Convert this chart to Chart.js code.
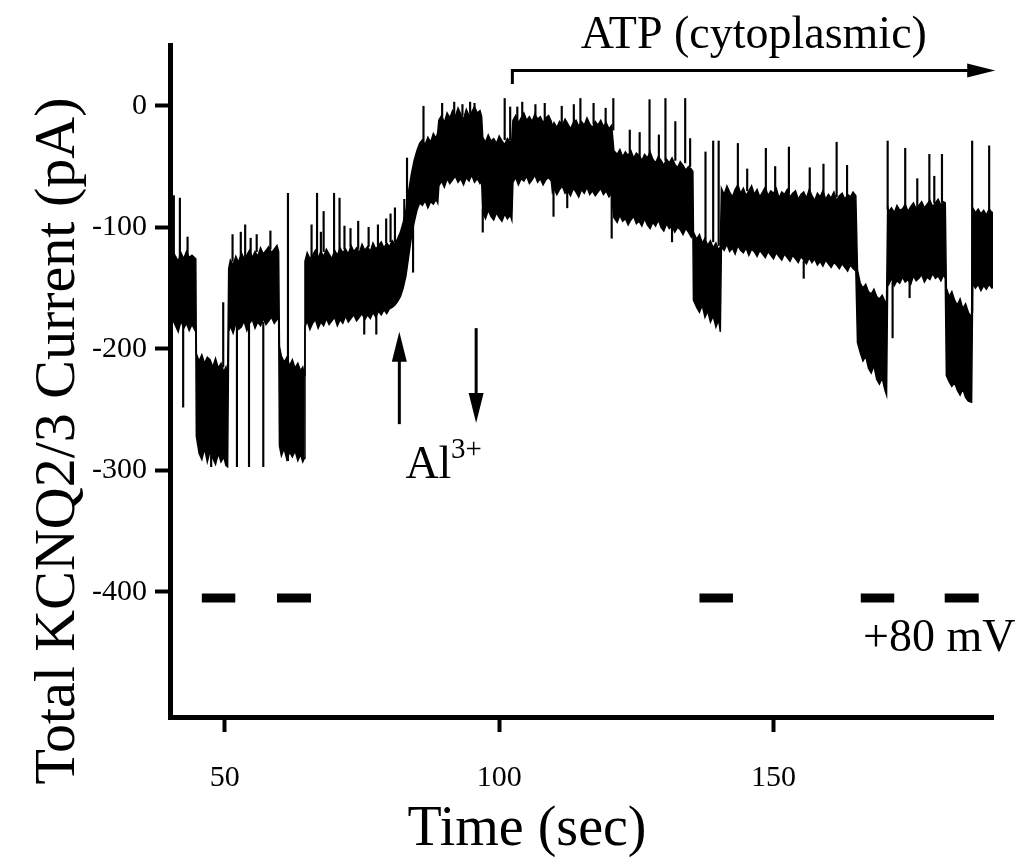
<!DOCTYPE html>
<html lang="en">
<head>
<meta charset="UTF-8">
<title>Total KCNQ2/3 Current</title>
<style>
  body { margin: 0; background: #fff; }
  #wrap { width: 1024px; height: 858px; }
</style>
</head>
<body>
<div id="wrap"><canvas id="trace" width="1024" height="858"></canvas></div>
<script src="https://cdn.jsdelivr.net/npm/chart.js"></script>
<script>
// envelope of the current trace (sec, pA); one line per episode
const timeSec = [
  39.5, 40, 40.5, 41, 41.5, 42, 42.5, 43, 43.5, 44, 44.7,
  44.8, 45.3, 45.8, 46.3, 46.8, 47.3, 47.8, 48.3, 48.8, 49.3, 49.8, 50.2, 50.5,
  50.7, 51, 51.5, 52, 52.5, 53, 53.5, 54, 54.5, 55, 55.5, 56, 56.5, 57, 57.5, 58, 58.5, 59, 59.5, 59.8,
  59.95, 60.3, 60.8, 61.3, 61.8, 62.3, 62.8, 63.3, 63.8, 64.2, 64.5,
  64.6, 65, 65.5, 66, 66.5, 67, 67.5, 68, 68.5, 69, 69.5, 70, 70.5, 71, 71.5, 72, 72.5, 73, 73.5, 74, 74.5, 75, 75.5, 76, 76.5, 77, 77.5, 78, 78.5, 79, 79.5, 80, 80.5, 81, 81.5,
  82, 82.5, 83, 83.5, 84, 84.5, 85, 85.5,
  86, 86.5, 87, 87.5, 88, 88.5, 88.8,
  89, 89.5, 90, 90.5, 91, 91.5, 92, 92.5, 93, 93.5, 94, 94.5, 95, 95.5, 96, 96.5, 96.8,
  97, 97.5, 98, 98.5, 99, 99.5, 100, 100.5, 101, 101.5, 102, 102.3,
  102.5, 103, 103.5, 104, 104.5, 105, 105.5, 106, 106.5, 107, 107.5, 108, 108.5, 109, 109.5,
  109.7, 110, 110.5, 111, 111.5, 112, 112.5, 113, 113.5, 114, 114.5, 115, 115.5, 116, 116.5, 117, 117.5, 118, 118.5, 119, 119.5, 120, 120.5,
  120.9, 121.5, 122, 122.5, 123, 123.5, 124, 124.5, 125, 125.5, 126, 126.5, 127, 127.5, 128, 128.5, 129, 129.5, 130, 130.5, 131, 131.5, 132, 132.5, 133, 133.5, 134, 134.5, 135, 135.3,
  135.4, 136, 136.5, 137, 137.5, 138, 138.5, 139, 139.5, 140, 140.3,
  140.5, 141, 141.5, 142, 142.5, 143, 143.5, 144, 144.5, 145,
  145.5, 146, 146.5, 147, 147.5, 148, 148.5, 149, 149.5, 150,
  150.5, 151, 151.5, 152, 152.5, 153, 153.5, 154, 154.5, 155,
  155.5, 156, 156.5, 157, 157.5, 158, 158.5, 159, 159.5, 160,
  160.5, 161, 161.5, 162, 162.5, 163, 163.5, 164, 164.5, 165,
  165.3, 165.8, 166.3, 166.8, 167.3, 167.8, 168.3, 168.8, 169.3, 169.8, 170.3, 170.6,
  170.8, 171, 171.5, 172, 172.5, 173, 173.5, 174, 174.5, 175, 175.5, 176, 176.5, 177, 177.5, 178, 178.5, 179, 179.5, 180, 180.5, 181, 181.3,
  181.5, 182, 182.5, 183, 183.5, 184, 184.5, 185, 185.5, 186.1,
  186.3, 186.8, 187.3, 187.8, 188.3, 188.8, 189.3, 189.8, 190.3];
const upperPA = [
  -122, -127, -119, -124, -128, -121, -126, -120, -125, -123, -126,
  -204, -210, -205, -212, -207, -209, -215, -208, -216, -212, -219, -215, -223,
  -134, -127, -131, -124, -129, -121, -126, -123, -119, -125, -120, -124, -117, -122, -119, -116, -121, -118, -115, -120,
  -198, -206, -211, -207, -214, -209, -216, -212, -218, -215, -222,
  -128, -121, -126, -123, -119, -125, -120, -124, -118, -122, -126, -119, -123, -117, -121, -118, -122, -115, -120, -117, -121, -114, -119, -116, -120, -113, -118, -115, -112, -117, -113, -116, -111, -114, -109,
  -104, -96, -86, -70, -56, -45, -37, -31,
  -28, -32, -26, -30, -23, -27, -22,
  -12, -8, -14, -6, -10, -4, -9, -2, -7, -11, -3, -8, -5, -1, -6, -4, -9,
  -26, -30, -24, -29, -27, -31, -25, -29, -32, -27, -30, -28,
  -12, -8, -14, -10, -6, -12, -9, -13, -7, -11, -9, -14, -10, -8, -13,
  -17, -14, -18, -13, -16, -11, -15, -19, -14, -12, -17, -13, -16, -10, -15, -18, -13, -16, -12, -17, -14, -19, -16,
  -37, -40, -36, -42, -38, -41, -37, -43, -39, -41, -45, -40, -43, -38, -44, -47, -42, -45, -49, -44, -47, -43, -48, -51, -46, -49, -53, -50, -52, -54,
  -104, -110, -106, -113, -109, -115, -111, -117, -113, -119, -116,
  -68, -73, -66, -71, -75, -69, -65, -72, -68, -74,
  -70, -66, -73, -69, -75, -71, -67, -74, -70, -72,
  -68, -76, -71, -73, -69, -75, -72, -70, -77, -73,
  -71, -76, -69, -74, -78, -72, -75, -70, -77, -73,
  -76, -71, -78, -74, -72, -77, -73, -75, -71, -74,
  -135, -146, -150, -147, -153, -155, -151, -157, -159, -156, -161, -162,
  -83, -87, -84, -88, -82, -86, -85, -81, -87, -83, -80, -85, -82, -79, -84, -81, -78, -83, -80, -77, -82, -79, -80,
  -150, -157, -153, -160, -164, -159, -167, -163, -170, -174,
  -84, -88, -85, -89, -86, -90, -85, -88, -87];
const lowerPA = [
  -178, -184, -176, -181, -186, -177, -183, -179, -185, -180, -186,
  -272, -286, -291, -282, -293, -284, -290, -295, -286, -293, -289, -296, -297,
  -186, -181, -187, -179, -184, -182, -177, -185, -179, -176, -183, -178, -181, -175, -180, -177, -174, -179, -176, -174,
  -280, -288, -282, -291, -285, -289, -284, -292, -287, -293, -290,
  -182, -177, -184, -179, -176, -183, -178, -181, -175, -180, -177, -174, -181, -176, -179, -173, -178, -175, -172, -177, -174, -171, -176, -172, -175, -170, -174, -169, -172, -168, -171, -167, -166, -164, -161,
  -157, -150, -140, -124, -108, -96, -86, -80,
  -82, -78, -84, -79, -81, -77, -80,
  -66, -62, -67, -60, -64, -61, -58, -63, -60, -65, -59, -62, -57, -63, -60, -64, -62,
  -88, -93, -86, -91, -94, -88, -92, -95, -89, -93, -90, -94,
  -63, -59, -65, -60, -62, -58, -64, -61, -57, -63, -60, -65, -61, -59, -62,
  -71, -68, -73, -69, -66, -72, -70, -74, -68, -71, -75, -69, -72, -67, -73, -70, -74, -71, -68, -73, -70, -75, -72,
  -92, -96, -90, -95, -93, -98, -94, -91, -97, -95, -99, -93, -98, -101, -96, -99, -94, -100, -103, -97, -101, -99, -104, -100, -102, -106, -101, -104, -108, -103,
  -160, -166, -170, -164, -174, -169, -178, -173, -182, -176, -186,
  -116, -119, -114, -120, -117, -122, -115, -119, -121, -117,
  -123, -118, -120, -124, -119, -122, -125, -120, -123, -126,
  -121, -124, -127, -122, -125, -128, -123, -126, -129, -124,
  -127, -130, -125, -129, -126, -131, -128, -132, -127, -130,
  -133, -129, -131, -134, -130, -133, -136, -131, -134, -136,
  -195, -203, -210, -206, -216, -220, -214, -225, -229, -224, -234, -238,
  -145, -147, -142, -148, -144, -146, -141, -145, -143, -147, -140, -144, -142, -139, -145, -141, -143, -138, -142, -140, -144, -139, -142,
  -222, -227, -231, -228, -234, -238, -233, -240, -243, -244,
  -146, -150, -147, -152, -148, -151, -147, -150, -149];

// single-channel spikes: time, start, end (pA)
const spikeT    = [40.7, 41.8, 42.4, 43.2, 47.5, 49.7, 51.4, 52.2, 52.9, 53.7, 54.4, 54.7, 55.8, 57.0, 58.3, 61.5,
  65.8, 66.8, 67.5, 68.0, 69.9, 70.9, 71.8, 72.9, 74.3, 75.4, 76.2, 77.6, 77.9, 79.4, 80.2, 81.0, 82.7, 83.2, 84.3,
  86.2, 89.6, 91.8, 93.3, 94.7, 95.5, 97.0, 101.0, 102.0, 103.3, 104.2, 106.6, 108.3, 109.9,
  111.4, 112.4, 113.6, 114.8, 117.2, 119.4, 120.5, 120.8, 123.8, 125.6, 127.4, 129.1, 130.3, 131.5, 132.1, 133.9, 134.8,
  137.6, 139.0, 140.0, 143.5, 145.2, 148.6, 150.3, 152.8, 155.5, 156.6, 159.1, 161.5, 163.4,
  170.8, 171.7, 174.0, 174.8, 176.2, 178.4, 179.3, 180.7, 186.2, 189.3];
const spikeFrom = [-130, -130, -178, -125, -285, -215, -128, -180, -123, -125, -180, -125, -120, -178, -118, -292,
  -125, -125, -122, -120, -120, -120, -118, -116, -118, -175, -116, -172, -115, -113, -112, -112, -100, -90, -100,
  -30, -10, -8, -8, -6, -5, -85, -28, -28, -12, -12, -10, -12, -60,
  -15, -70, -14, -15, -15, -16, -70, -20, -40, -42, -40, -44, -45, -100, -45, -47, -50,
  -110, -112, -115, -70, -70, -70, -72, -72, -128, -74, -75, -75, -74,
  -85, -145, -85, -144, -84, -80, -80, -80, -170, -88];
const spikeTo   = [-74, -76, -248, -108, -297, -162, -106, -297, -104, -98, -297, -109, -106, -297, -103, -72,
  -98, -72, -104, -87, -72, -76, -99, -101, -95, -188, -100, -188, -98, -93, -89, -84, -77, -43, -137,
  0, 2, 3, 1, 3, 2, -104, 6, -1, -1, 3, 1, 2, -91,
  0, -84, 1, 6, 2, -2, -109, 6, -20, -22, 5, -24, 6, -112, -13, 6, -27,
  -38, -29, -29, -31, -52, -35, -50, -34, -142, -51, -48, -30, -49,
  -29, -191, -35, -158, -60, -40, -58, -40, -29, -33];

// +80 mV steps
const pulseStart = [45.8, 59.5, 136.5, 165.9, 181.2];
const pulseEnd   = [51.9, 65.7, 142.6, 172.0, 187.4];
const pulseLevel = -405;

const xTicks = [50, 100, 150];
const yTicks = [0, -100, -200, -300, -400];

// Al3+ application arrows (sec, pA)
const alArrows = [{ t: 81.8, from: -262, to: -186 }, { t: 95.8, from: -183, to: -261 }];
const atpArrow = { start: 102.4, end: 190.4, level: 29, foot: 18 };

const serif = 'Liberation Serif';

const envelope = (vals) => timeSec.map((t, i) => ({ x: t, y: vals[i] }));
const pulseData = [];
pulseStart.forEach((s, i) => {
  pulseData.push({ x: s, y: pulseLevel }, { x: pulseEnd[i], y: pulseLevel }, { x: pulseEnd[i], y: null });
});

function vArrow(ctx, x, y0, y1) {
  const dir = y1 < y0 ? -1 : 1;
  ctx.lineWidth = 3;
  ctx.beginPath();
  ctx.moveTo(x, y0);
  ctx.lineTo(x, y1 - dir * 26);
  ctx.stroke();
  ctx.beginPath();
  ctx.moveTo(x, y1);
  ctx.lineTo(x - 7.5, y1 - dir * 30);
  ctx.lineTo(x + 7.5, y1 - dir * 30);
  ctx.closePath();
  ctx.fill();
}

const notes = {
  id: 'notes',
  afterDatasetsDraw(chart) {
    const { ctx, scales: { x, y } } = chart;
    ctx.save();
    ctx.fillStyle = '#000';
    ctx.strokeStyle = '#000';

    alArrows.forEach(a => vArrow(ctx, x.getPixelForValue(a.t), y.getPixelForValue(a.from), y.getPixelForValue(a.to)));

    // ATP bracket arrow
    const ax0 = x.getPixelForValue(atpArrow.start);
    const ax1 = x.getPixelForValue(atpArrow.end);
    const ay = y.getPixelForValue(atpArrow.level);
    ctx.lineWidth = 3;
    ctx.beginPath();
    ctx.moveTo(ax0, y.getPixelForValue(atpArrow.foot));
    ctx.lineTo(ax0, ay);
    ctx.lineTo(ax1 - 26, ay);
    ctx.stroke();
    ctx.beginPath();
    ctx.moveTo(ax1, ay);
    ctx.lineTo(ax1 - 28, ay - 7);
    ctx.lineTo(ax1 - 28, ay + 7);
    ctx.closePath();
    ctx.fill();

    ctx.textBaseline = 'alphabetic';
    ctx.textAlign = 'center';
    ctx.font = '46px "' + serif + '"';
    ctx.fillText('ATP (cytoplasmic)', x.getPixelForValue(146.4), y.getPixelForValue(47.5));

    ctx.textAlign = 'left';
    ctx.fillText('Al', x.getPixelForValue(82.9), y.getPixelForValue(-306));
    ctx.fillText('+80 mV', x.getPixelForValue(166.3), y.getPixelForValue(-449));
    ctx.font = '29px "' + serif + '"';
    ctx.fillText('3+', x.getPixelForValue(91.2), y.getPixelForValue(-290));

    // axis titles
    ctx.textAlign = 'center';
    ctx.font = '56px "' + serif + '"';
    ctx.fillText('Time (sec)', 527, 845);
    ctx.translate(74, 441);
    ctx.rotate(-Math.PI / 2);
    ctx.font = '58px "' + serif + '"';
    ctx.fillText('Total KCNQ2/3 Current (pA)', 0, 0);
    ctx.restore();
  }
};

const axisGrid = { drawOnChartArea: false, offset: false, tickLength: 15, tickWidth: 4, color: '#000' };
const axisBorder = { color: '#000', width: 5 };

new Chart(document.getElementById('trace'), {
  type: 'line',
  data: {
    datasets: [
      { data: envelope(upperPA), borderColor: '#000', borderWidth: 1.5, pointRadius: 0, fill: '+1', backgroundColor: '#000' },
      { data: envelope(lowerPA), borderColor: '#000', borderWidth: 1.5, pointRadius: 0, fill: false },
      { type: 'bar', data: spikeT.map((t, i) => ({ x: t, y: [spikeFrom[i], spikeTo[i]] })),
        backgroundColor: '#000', barThickness: 1.5, borderWidth: 0 },
      { data: pulseData, borderColor: '#000', borderWidth: 9, borderCapStyle: 'butt', pointRadius: 0, spanGaps: false, fill: false }
    ]
  },
  options: {
    responsive: false,
    animation: false,
    layout: { padding: { top: 45, right: 31, left: 0, bottom: 0 } },
    plugins: { legend: { display: false }, tooltip: { enabled: false } },
    scales: {
      x: {
        type: 'linear', min: 40, max: 190, offset: false,
        afterBuildTicks: s => { s.ticks = xTicks.map(v => ({ value: v })); },
        afterFit: s => { s.height = 141; },
        grid: axisGrid, border: axisBorder,
        ticks: { color: '#000', font: { family: serif, size: 30 }, padding: 28 }
      },
      y: {
        type: 'linear', min: -503, max: 50,
        afterBuildTicks: s => { s.ticks = yTicks.map(v => ({ value: v })); },
        afterFit: s => { s.width = 170; },
        grid: axisGrid, border: axisBorder,
        ticks: { color: '#000', font: { family: serif, size: 30 }, padding: 8 }
      }
    }
  },
  plugins: [notes]
});
</script>
</body>
</html>
